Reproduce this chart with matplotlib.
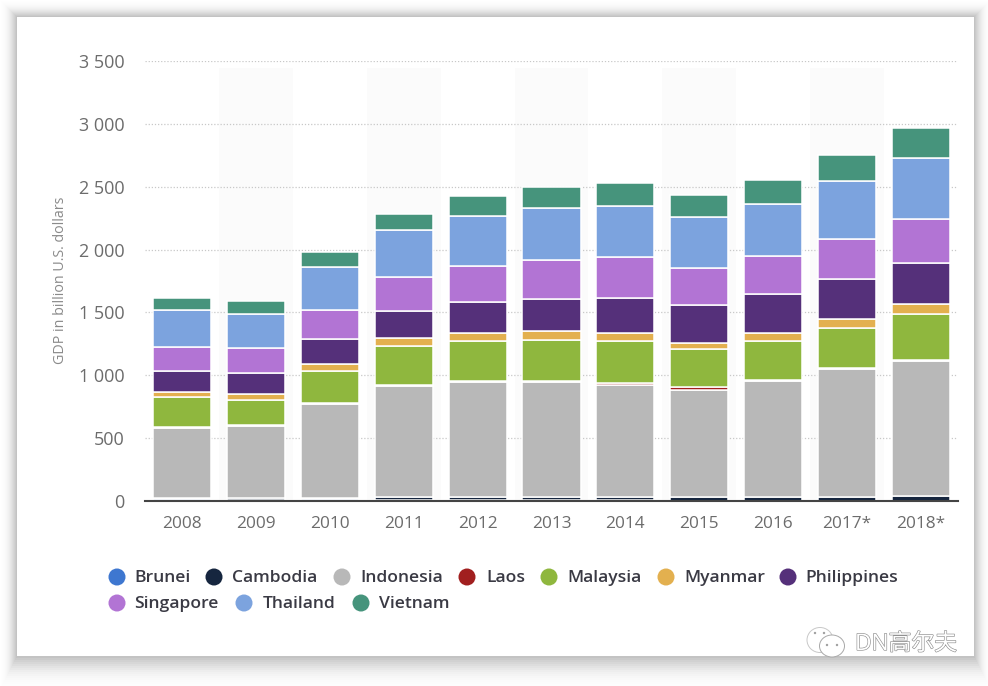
import numpy as np
import matplotlib.pyplot as plt
from matplotlib.patches import Rectangle, Ellipse
import matplotlib.patheffects as pe

years = ["2008", "2009", "2010", "2011", "2012", "2013", "2014", "2015", "2016", "2017*", "2018*"]
countries = ["Brunei", "Cambodia", "Indonesia", "Laos", "Malaysia", "Myanmar", "Philippines", "Singapore", "Thailand", "Vietnam"]
colors = ["#3e77d0", "#16263f", "#b8b8b8", "#a11f1f", "#8fb73e", "#e3b04f", "#55307a", "#b274d4", "#7ca3de", "#46947c"]

brunei = [14, 11, 14, 4, 4, 4, 4, 3, 3, 3, 3]
cambodia = [10, 10, 11, 28, 29, 29, 30, 28, 28, 31, 36]
indonesia = [557, 579, 749, 885, 916, 916, 889, 852, 926, 1016, 1075]
laos = [4, 5, 6, 7, 8, 9, 17, 24, 8, 8, 9]
malaysia = [242, 198, 254, 309, 316, 323, 333, 302, 308, 318, 365]
myanmar = [40, 48, 56, 64, 64, 72, 64, 48, 64, 72, 80]
philippines = [167, 167, 199, 215, 247, 255, 278, 302, 310, 318, 326]
singapore = [191, 199, 231, 270, 286, 310, 326, 294, 302, 318, 350]
thailand = [294, 270, 342, 374, 398, 414, 406, 406, 414, 461, 485]
vietnam = [95, 103, 119, 127, 159, 167, 183, 175, 191, 207, 239]
series = [brunei, cambodia, indonesia, laos, malaysia, myanmar, philippines, singapore, thailand, vietnam]

yticks = [0, 500, 1000, 1500, 2000, 2500, 3000, 3500]
ytick_labels = ["0", "500", "1 000", "1 500", "2 000", "2 500", "3 000", "3 500"]

W, H = 988, 686
plt.rcParams["font.family"] = ["Open Sans", "Noto Sans CJK SC", "DejaVu Sans"]

fig = plt.figure(figsize=(W / 100, H / 100), dpi=100, facecolor="white")

# page background, drawn in pixel coordinates
bg = fig.add_axes([0, 0, 1, 1], zorder=0)
bg.set_xlim(0, W)
bg.set_ylim(H, 0)
bg.axis("off")
for i in range(16, 0, -1):
    bg.add_patch(Rectangle((17 - i, 17 - i), 957 + 2 * i, 639 + 2 * i + i,
                           facecolor="black", edgecolor="none", alpha=0.002 + 0.0009 * (16 - i) ** 1.3))
bg.add_patch(Rectangle((17, 17), 957, 639, facecolor="white", edgecolor="none"))

# chart
ax = fig.add_axes([145 / W, 1 - 501 / H, 813 / W, 440 / H], zorder=1)
ax.patch.set_alpha(0)
x = np.arange(len(years))
for i in x[1::2]:
    ax.axvspan(i - 0.5, i + 0.5, ymax=0.985, color="#fbfbfb", lw=0, zorder=0)

bottom = np.zeros(len(years))
for name, vals, c in zip(countries, series, colors):
    ax.bar(x, vals, 0.785, bottom=bottom, color=c, edgecolor="white", linewidth=1.1, label=name, zorder=3)
    bottom += np.array(vals)

ax.set_xlim(-0.5, 10.5)
ax.set_ylim(0, 3500)
ax.set_yticks(yticks)
ax.set_yticklabels(ytick_labels)
ax.set_xticks(x)
ax.set_xticklabels(years)
ax.grid(axis="y", linestyle=(0, (1, 1.5)), color="#c8c8c8", linewidth=0.9, zorder=1)
ax.grid(axis="x", visible=False)
ax.tick_params(axis="both", length=0, labelcolor="#6c6c6c")
ax.tick_params(axis="y", labelsize=13, pad=14.7)
ax.tick_params(axis="x", labelsize=12.4, pad=10.6)
for s in ["top", "left", "right"]:
    ax.spines[s].set_visible(False)
ax.spines["bottom"].set_color("#444444")
ax.spines["bottom"].set_linewidth(1.5)
ax.spines["bottom"].set_zorder(5)

# overlay for ylabel, legend, watermark
ov = fig.add_axes([0, 0, 1, 1], zorder=2)
ov.set_xlim(0, W)
ov.set_ylim(H, 0)
ov.axis("off")
ov.text(60, 280, "GDP in billion U.S. dollars", rotation=90, ha="center", va="center", fontsize=10.3, color="#8a8a8a")

legend_pos = [(117, 134, 577), (214, 232, 577), (342, 360, 577), (467, 486, 577), (549, 567, 577),
              (666, 684, 577), (788, 805, 577), (117, 134, 603), (244, 263, 603), (361, 379, 603)]
for name, c, (mx, tx, ly) in zip(countries, colors, legend_pos):
    ov.scatter([mx], [ly], s=150, color=c, edgecolor="none")
    ov.text(tx, ly + 1.5, name, ha="left", va="center", fontsize=12.6, color="#3a3a44", fontweight="semibold")

# watermark
ov.text(855, 644, "DN高尔夫", ha="left", va="center", fontsize=16.4, color="white",
        path_effects=[pe.withStroke(linewidth=0.9, foreground="#8f8f8f")])
ov.add_patch(Ellipse((820, 640), 26, 25, facecolor="white", edgecolor="#c8c8c8", lw=0.7))
ov.add_patch(Ellipse((832, 646), 25, 22, facecolor="white", edgecolor="#a8a8a8", lw=0.7))
ov.scatter([815, 824, 827, 837], [633, 633, 645, 645], s=3, color="#a0a0a0", edgecolor="none")

fig.savefig("out.png", dpi=100)
